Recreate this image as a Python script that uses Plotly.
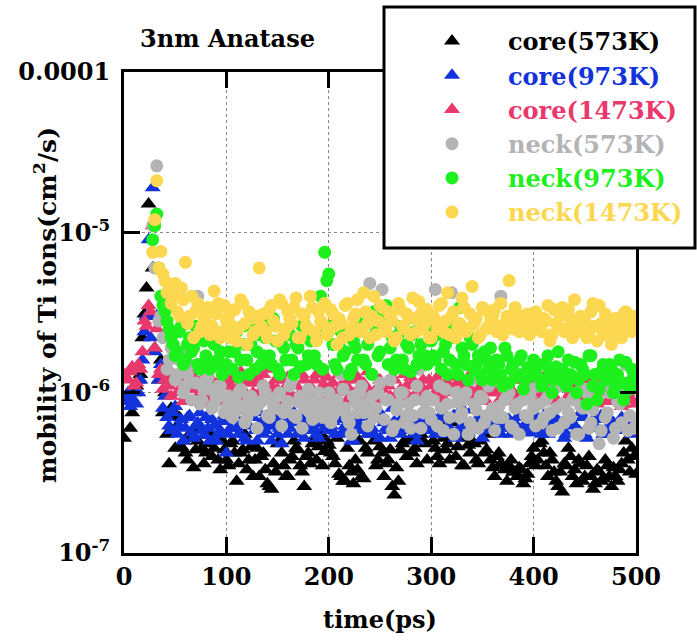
import plotly.graph_objects as go

# Sampling times (ps): core ions from t=0, neck ions from t=28; two interleaved
# sets of snapshots 2 ps apart
core_t = list(range(0, 501, 4))
core_t2 = list(range(2, 499, 4))
neck_t = list(range(28, 501, 4))
neck_t2 = list(range(30, 499, 4))

# Mobility values in units of 1e-6 cm^2/s
core_573 = [
    0.52, 0.95, 0.75, 1.1, 1.3, 3.1, 15, 6.0, 3.0, 1.6, 1.0, 0.36, 0.72, 0.62, 0.46, 0.42, 0.55, 0.34, 0.5, 0.45, 0.42, 0.55, 0.45, 0.38, 0.5,
    0.38, 0.48, 0.42, 0.36, 0.44, 0.33, 0.46, 0.38, 0.3, 0.42, 0.27, 0.25, 0.32, 0.5, 0.35, 0.3, 0.4, 0.45, 0.35, 0.26, 0.42, 0.48, 0.38, 0.55, 0.43,
    0.47, 0.4, 0.52, 0.3, 0.28, 0.35, 0.27, 0.33, 0.3, 0.45, 0.6, 0.5, 0.38, 0.42, 0.36, 0.44, 0.23, 0.28, 0.48, 0.4, 0.52, 0.45, 0.62, 0.5, 0.38,
    0.58, 0.45, 0.36, 0.52, 0.48, 0.65, 0.4, 0.55, 0.35, 0.47, 0.6, 0.38, 0.5, 0.42, 0.55, 0.34, 0.4, 0.36, 0.33, 0.35, 0.32, 0.3, 0.33, 0.29, 0.36,
    0.45, 0.38, 0.5, 0.35, 0.42, 0.32, 0.26, 0.24, 0.35, 0.4, 0.33, 0.38, 0.28, 0.35, 0.3, 0.27, 0.32, 0.29, 0.35, 0.26, 0.3, 0.33, 0.42, 0.38, 0.45, 0.31,
]
core_573_b = [
    0.9, 0.6, 1.0, 1.2, 2.2, 4.5, 3.1, 1.9, 1.2, 0.75, 0.55, 0.8, 0.45, 0.7, 0.5, 0.38, 0.52, 0.44, 0.6, 0.36, 0.48, 0.4, 0.52, 0.33, 0.44,
    0.35, 0.5, 0.28, 0.42, 0.55, 0.38, 0.3, 0.45, 0.4, 0.33, 0.26, 0.36, 0.48, 0.42, 0.3, 0.38, 0.5, 0.44, 0.32, 0.4, 0.36, 0.52, 0.46, 0.35, 0.5,
    0.42, 0.36, 0.31, 0.28, 0.45, 0.32, 0.38, 0.5, 0.29, 0.42, 0.55, 0.35, 0.46, 0.3, 0.38, 0.26, 0.34, 0.44, 0.5, 0.58, 0.42, 0.36, 0.55, 0.48, 0.6,
    0.5, 0.4, 0.62, 0.44, 0.38, 0.55, 0.46, 0.35, 0.52, 0.42, 0.48, 0.36, 0.58, 0.44, 0.38, 0.3, 0.42, 0.35, 0.28, 0.38, 0.32, 0.34, 0.27, 0.31, 0.4,
    0.35, 0.48, 0.42, 0.3, 0.38, 0.28, 0.32, 0.36, 0.45, 0.3, 0.27, 0.36, 0.3, 0.4, 0.25, 0.33, 0.28, 0.38, 0.3, 0.34, 0.28, 0.36, 0.5, 0.32, 0.4,
]
core_973 = [
    0.88, 1.0, 0.92, 0.85, 1.2, 2.4, 9.0, 19, 3.0, 1.5, 0.95, 0.62, 0.75, 0.55, 0.68, 0.6, 0.72, 0.52, 0.65, 0.58, 0.7, 0.5, 0.62, 0.55, 0.66,
    0.42, 0.6, 0.72, 0.55, 0.65, 0.5, 0.7, 0.58, 0.75, 0.55, 0.62, 0.5, 0.68, 0.6, 0.72, 0.55, 0.65, 0.7, 0.58, 0.52, 0.8, 0.62, 0.55, 0.68, 0.6,
    0.58, 0.66, 0.72, 0.55, 0.62, 0.7, 0.5, 0.65, 0.58, 0.75, 0.62, 0.55, 0.68, 0.72, 0.6, 0.52, 0.66, 0.62, 0.7, 0.58, 0.65, 0.55, 0.72, 0.6, 0.66,
    0.62, 0.55, 0.7, 0.75, 0.6, 0.68, 0.52, 0.72, 0.62, 0.56, 0.78, 0.65, 0.6, 0.7, 0.58, 0.66, 0.72, 0.55, 0.62, 0.68, 0.6, 0.7, 0.58, 0.64, 0.56,
    0.62, 0.7, 0.55, 0.66, 0.6, 0.72, 0.58, 0.65, 0.55, 0.68, 0.62, 0.58, 0.7, 0.52, 0.65, 0.6, 0.68, 0.55, 0.72, 0.62, 0.58, 0.66, 0.6, 0.7, 0.55, 0.62,
]
core_973_b = [
    0.95, 0.82, 1.1, 1.0, 1.6, 3.0, 2.2, 1.8, 1.2, 0.8, 0.7, 0.58, 0.82, 0.62, 0.5, 0.7, 0.56, 0.62, 0.75, 0.54, 0.6, 0.68, 0.5, 0.58, 0.72,
    0.55, 0.68, 0.6, 0.78, 0.52, 0.62, 0.7, 0.5, 0.65, 0.58, 0.72, 0.62, 0.55, 0.48, 0.66, 0.6, 0.75, 0.55, 0.68, 0.62, 0.58, 0.7, 0.52, 0.64, 0.72,
    0.62, 0.55, 0.68, 0.75, 0.58, 0.5, 0.66, 0.62, 0.7, 0.55, 0.6, 0.72, 0.52, 0.65, 0.58, 0.8, 0.62, 0.55, 0.7, 0.6, 0.68, 0.5, 0.64, 0.72, 0.58,
    0.7, 0.62, 0.55, 0.68, 0.6, 0.72, 0.58, 0.8, 0.55, 0.65, 0.6, 0.7, 0.52, 0.66, 0.62, 0.58, 0.72, 0.6, 0.68, 0.55, 0.64, 0.7, 0.6, 0.58, 0.66,
    0.58, 0.65, 0.72, 0.55, 0.62, 0.68, 0.6, 0.52, 0.7, 0.64, 0.58, 0.75, 0.55, 0.62, 0.68, 0.6, 0.72, 0.58, 0.55, 0.65, 0.62, 0.7, 0.58, 0.66, 0.6,
]
core_1473 = [
    1.3, 1.2, 1.45, 1.15, 1.4, 2.8, 3.5, 11, 2.5, 1.4, 1.2, 1.1, 1.3, 1.0, 1.2, 0.95, 1.15, 1.05, 0.9, 1.2, 1.0, 0.85, 1.1, 0.95, 1.25,
    0.9, 1.1, 1.25, 0.95, 1.05, 1.2, 0.88, 1.15, 1.0, 1.3, 0.92, 1.1, 1.2, 0.95, 1.05, 1.25, 0.9, 1.1, 1.0, 1.2, 0.85, 1.05, 1.3, 0.95, 1.1,
    0.9, 1.15, 1.0, 0.85, 1.2, 1.05, 0.95, 1.25, 0.9, 1.1, 1.0, 1.3, 0.92, 1.05, 1.15, 0.95, 1.2, 1.0, 0.88, 1.1, 1.25, 0.95, 1.05, 1.2, 0.9,
    1.1, 1.0, 1.3, 0.92, 1.15, 1.05, 0.85, 1.2, 1.0, 1.1, 0.95, 1.3, 1.05, 0.9, 1.15, 1.0, 1.2, 0.92, 1.1, 1.05, 0.88, 1.2, 1.0, 1.1, 0.95,
    1.15, 1.0, 0.9, 1.2, 1.05, 0.95, 1.15, 0.85, 1.1, 1.0, 1.25, 0.92, 1.05, 1.15, 0.9, 1.1, 1.0, 1.2, 0.88, 1.05, 0.95, 1.15, 0.85, 1.0, 0.9, 0.85,
]
core_1473_b = [
    1.25, 1.35, 1.1, 1.5, 1.8, 2.6, 3.2, 1.9, 1.3, 1.05, 1.35, 0.95, 1.15, 1.25, 0.88, 1.1, 1.3, 0.92, 1.05, 1.15, 0.9, 1.2, 1.0, 0.88, 1.1,
    1.2, 0.85, 1.05, 1.35, 0.95, 1.15, 1.0, 1.25, 0.9, 1.1, 1.4, 0.95, 1.05, 0.88, 1.2, 1.0, 1.15, 0.92, 1.3, 1.05, 0.95, 1.2, 0.9, 1.1, 1.25,
    1.05, 0.95, 1.3, 1.1, 0.9, 1.2, 1.0, 0.85, 1.15, 1.35, 0.95, 1.05, 1.2, 0.9, 1.1, 1.25, 0.92, 1.05, 1.3, 0.95, 1.15, 0.88, 1.1, 1.0, 1.2,
    0.95, 1.2, 1.05, 0.88, 1.25, 1.0, 1.15, 0.9, 1.1, 1.3, 0.95, 1.05, 1.2, 0.88, 1.1, 1.0, 1.25, 0.92, 1.15, 1.05, 0.95, 1.2, 0.9, 1.05, 1.15,
    1.05, 0.9, 1.25, 1.0, 1.15, 0.88, 1.1, 1.2, 0.95, 1.05, 0.9, 1.15, 1.0, 1.25, 0.92, 0.85, 1.1, 1.0, 0.9, 1.2, 0.95, 0.82, 1.05, 0.9, 1.1,
]
neck_573 = [
    11, 26, 3.0, 3.5, 1.6, 2.0, 1.3, 1.8, 1.1, 1.5, 2.2, 4.0, 0.9, 1.2, 1.05, 0.85, 1.1, 0.95,
    0.8, 0.9, 0.75, 1.0, 0.82, 0.7, 0.95, 0.78, 0.85, 1.1, 0.72, 0.9, 0.8, 1.0, 0.75, 0.88, 1.2, 0.7, 0.95, 0.8, 1.05, 0.68, 0.9, 0.78, 0.85,
    1.0, 0.72, 0.9, 1.3, 0.8, 0.65, 0.95, 0.75, 1.1, 0.85, 4.8, 0.7, 1.0, 4.4, 0.9, 1.2, 0.62, 0.85, 1.0, 0.72, 0.6, 0.9, 1.4, 0.75, 0.95,
    0.68, 4.4, 1.1, 0.58, 0.85, 4.2, 1.0, 0.7, 0.9, 0.55, 1.2, 0.78, 0.95, 0.65, 1.1, 0.8, 0.7, 4.0, 0.9, 1.0, 0.6, 0.85, 1.3, 0.72, 0.95,
    0.8, 1.1, 0.65, 0.9, 0.75, 1.05, 0.6, 0.85, 1.2, 0.7, 0.95, 0.55, 0.8, 1.0, 0.65, 0.9, 0.48, 1.1, 0.75, 1.4, 0.6, 0.85, 1.0, 0.58, 1.2, 0.62,
]
neck_573_b = [
    6.0, 2.8, 2.2, 1.4, 1.9, 1.2, 1.6, 1.0, 1.3, 0.9, 1.15, 0.85, 1.05, 1.25, 0.8, 0.95, 1.1, 0.75,
    0.95, 0.7, 0.85, 1.05, 0.65, 0.9, 0.78, 0.6, 0.88, 1.0, 0.7, 0.82, 0.95, 0.62, 0.8, 1.1, 0.72, 0.88, 0.6, 0.92, 0.75, 0.85, 1.0, 0.7, 0.8,
    0.65, 0.9, 0.78, 1.05, 0.7, 0.55, 0.88, 1.0, 0.75, 0.62, 0.95, 0.8, 1.15, 0.68, 0.9, 0.58, 0.78, 1.0, 0.65, 0.85, 0.72, 1.1, 0.6, 0.88, 0.75,
    0.9, 0.62, 0.8, 1.05, 0.7, 0.55, 0.88, 0.75, 1.0, 0.65, 0.85, 0.6, 0.92, 0.72, 1.15, 0.58, 0.82, 0.7, 0.95, 0.62, 0.8, 0.55, 0.9, 0.7, 1.05,
    0.62, 0.85, 0.7, 0.95, 0.58, 0.8, 1.1, 0.65, 0.75, 0.9, 0.55, 0.82, 1.05, 0.6, 0.78, 0.92, 0.58, 0.7, 1.0, 0.52, 0.88, 0.65, 1.5, 0.72, 0.6,
]
neck_973 = [
    9.0, 13, 4.0, 3.2, 2.5, 2.0, 1.8, 2.6, 1.6, 2.2, 1.9, 1.5, 2.4, 1.7, 1.4, 2.0, 1.6, 1.3,
    1.5, 2.2, 1.8, 1.25, 2.6, 1.6, 2.0, 1.4, 2.3, 1.7, 2.8, 1.5, 2.1, 1.3, 1.9, 2.5, 1.6, 2.0, 1.45, 2.7, 1.7, 2.2, 1.5, 4.0, 7.5,
    5.5, 2.0, 1.4, 2.4, 1.8, 1.3, 2.1, 1.6, 2.6, 1.5, 2.2, 3.2, 1.7, 2.5, 3.5, 1.9, 1.4, 2.3, 1.6, 2.0, 1.35, 2.4, 1.7, 2.8, 1.5,
    2.1, 1.6, 2.5, 1.8, 1.3, 2.2, 1.5, 3.4, 1.7, 1.2, 2.0, 1.5, 1.3, 1.8, 1.4, 1.2, 1.6, 1.3, 1.9, 1.15, 1.5, 1.3, 1.7, 1.2, 1.45,
    1.6, 1.25, 1.1, 1.5, 1.35, 1.2, 1.8, 1.4, 1.1, 1.3, 1.55, 1.2, 1.4, 0.85, 1.7, 1.3, 1.05, 1.5, 1.25, 1.4, 1.1, 1.6, 0.9, 1.15, 1.4, 1.2,
]
neck_973_b = [
    11, 6.0, 3.5, 2.8, 2.2, 1.7, 2.4, 1.5, 2.0, 1.8, 2.6, 1.4, 2.1, 1.6, 2.3, 1.5, 1.8, 1.4,
    1.8, 1.4, 2.4, 1.6, 2.0, 1.3, 2.5, 1.8, 1.5, 2.2, 1.7, 2.9, 1.4, 2.0, 1.6, 2.3, 1.3, 1.9, 2.6, 1.5, 2.1, 1.7, 2.4, 1.4, 5.0,
    2.6, 1.5, 2.0, 1.7, 2.3, 1.4, 1.9, 2.7, 1.6, 2.0, 1.3, 2.4, 1.8, 2.9, 1.5, 2.2, 1.6, 2.6, 1.4, 1.9, 2.3, 1.5, 2.0, 1.7, 2.5,
    1.7, 2.3, 1.4, 2.0, 1.6, 2.6, 1.3, 1.9, 1.5, 2.2, 1.4, 1.7, 1.2, 1.6, 1.9, 1.3, 1.5, 1.1, 1.7, 1.4, 1.25, 1.6, 1.05, 1.4, 1.3,
    1.35, 1.5, 1.2, 1.7, 1.0, 1.45, 1.3, 1.15, 1.6, 1.25, 1.0, 1.5, 1.3, 1.7, 1.1, 0.9, 1.35, 1.2, 1.5, 1.0, 1.3, 1.15, 1.55, 1.05, 1.3,
]
neck_1473 = [
    7.5, 21, 7.6, 5.0, 4.5, 4.0, 3.2, 4.5, 6.5, 3.0, 2.2, 3.6, 2.6, 3.0, 2.3, 4.3, 3.6, 2.4,
    2.8, 2.2, 3.3, 2.5, 3.6, 2.0, 2.9, 2.4, 6.0, 3.1, 2.2, 3.5, 2.6, 3.8, 2.3, 3.2, 2.7, 3.9, 2.2, 3.0, 2.5, 3.4, 2.1, 2.8, 3.6,
    2.4, 3.1, 2.0, 2.7, 3.5, 2.3, 2.9, 3.8, 2.5, 3.2, 2.2, 4.0, 2.8, 3.4, 2.4, 3.0, 2.1, 3.6, 2.6, 3.1, 2.3, 2.9, 3.7, 2.5, 3.3,
    2.2, 2.8, 3.5, 2.4, 4.2, 3.0, 2.2, 2.7, 3.4, 2.5, 4.6, 2.9, 2.3, 3.3, 2.6, 3.0, 2.4, 3.6, 2.7, 5.0, 2.5, 3.1, 2.6, 2.9, 2.3,
    2.7, 3.0, 2.4, 2.8, 2.1, 3.3, 2.6, 3.4, 2.5, 2.9, 3.8, 2.4, 2.8, 2.2, 3.2, 2.6, 3.5, 2.3, 2.7, 2.0, 2.9, 2.5, 3.1, 2.7, 2.4, 2.8,
]
neck_1473_b = [
    12, 6.0, 5.5, 4.2, 3.6, 4.8, 3.0, 3.8, 2.7, 4.0, 3.2, 2.4, 2.9, 3.4, 2.6, 3.1, 2.2, 3.5,
    3.0, 2.6, 2.1, 3.8, 2.7, 3.2, 2.3, 3.0, 2.6, 2.4, 3.3, 2.8, 2.1, 3.6, 2.5, 2.9, 3.4, 2.2, 3.1, 2.6, 4.0, 2.4, 3.2, 2.7, 2.3,
    3.3, 2.6, 2.9, 2.2, 3.6, 2.5, 3.1, 2.4, 4.2, 2.7, 3.0, 2.3, 3.5, 2.6, 3.2, 2.8, 2.2, 3.3, 2.5, 2.9, 3.9, 2.4, 3.1, 2.7, 2.2,
    3.0, 2.5, 3.6, 2.8, 2.3, 3.2, 2.6, 3.9, 2.4, 3.1, 2.7, 2.2, 3.4, 2.5, 2.9, 3.3, 2.6, 2.3, 3.0, 2.8, 3.4, 2.4, 2.7, 3.1, 2.5,
    3.2, 2.5, 2.9, 3.5, 2.3, 2.7, 3.0, 2.4, 3.3, 2.2, 2.6, 3.0, 2.8, 2.4, 3.6, 2.1, 2.7, 3.1, 2.5, 2.3, 2.9, 2.2, 3.2, 2.6, 3.0,
]

series_names = ["core(573K)", "core(973K)", "core(1473K)", "neck(573K)", "neck(973K)", "neck(1473K)"]
series_colors = ["#000000", "#1232DC", "#E8386C", "#B4B4B4", "#1EF01E", "#FCD850"]
series_values = [(core_573, core_573_b), (core_973, core_973_b), (core_1473, core_1473_b),
                 (neck_573, neck_573_b), (neck_973, neck_973_b), (neck_1473, neck_1473_b)]
series_times = [(core_t, core_t2)] * 3 + [(neck_t, neck_t2)] * 3
series_symbols = ["triangle-up"] * 3 + ["circle"] * 3

y_tickvals = [1e-7, 1e-6, 1e-5, 1e-4]
y_ticktext = ["<b>10<sup>-7</sup></b>", "<b>10<sup>-6</sup></b>", "<b>10<sup>-5</sup></b>", "<b>0.0001</b>"]
x_tickvals = [0, 100, 200, 300, 400, 500]
x_ticktext = ["<b>%d</b>" % v for v in x_tickvals]

SERIF = "DejaVu Serif"

fig = go.Figure()
for i, (name, color, (va, vb), (ta, tb), sym) in enumerate(
        zip(series_names, series_colors, series_values, series_times, series_symbols)):
    xs, ys = [], []
    for vals, times in ((va, ta), (vb, tb)):
        n = min(len(vals), len(times))
        xs += times[:n]
        ys += [v * 1e-6 for v in vals[:n]]
    fig.add_trace(go.Scatter(
        x=xs, y=ys, mode="markers",
        name=f'<b><span style="color:{color}">{name}</span></b>',
        legendgroup=f"g{i}",
        marker=dict(symbol=sym, color=color, size=13 if sym == "circle" else 14,
                    line=dict(width=0)),
    ))

W, H = 697, 643
L, R, T, B = 124, 61, 72, 90
pw, ph = W - L - R, H - T - B


def px_x(p):
    return (p - L) / pw


def px_y(p):
    return (H - B - p) / ph


# white legend panel with a heavy black frame
fig.add_shape(type="rect", xref="paper", yref="paper",
              x0=px_x(384), x1=px_x(695), y0=px_y(248), y1=px_y(7),
              fillcolor="white", line=dict(color="black", width=3), layer="above")

fig.add_annotation(text="<b>3nm Anatase</b>", xref="paper", yref="paper",
                   x=px_x(138), y=px_y(38), xanchor="left", yanchor="middle",
                   showarrow=False,
                   font=dict(family=SERIF, size=24, color="black"))

fig.add_annotation(text="<b>mobility of Ti ions(cm<sup>2</sup>/s)</b>",
                   xref="paper", yref="paper", textangle=-90,
                   x=px_x(45), y=px_y(305), xanchor="center", yanchor="middle",
                   showarrow=False,
                   font=dict(family=SERIF, size=25, color="black"))

fig.update_layout(
    width=W, height=H,
    margin=dict(l=L, r=R, t=T, b=B, autoexpand=False),
    paper_bgcolor="white", plot_bgcolor="white",
    font=dict(family=SERIF, color="black"),
    legend=dict(x=px_x(396), y=px_y(19), xanchor="left", yanchor="top",
                bgcolor="rgba(0,0,0,0)", borderwidth=0,
                font=dict(family=SERIF, size=24),
                itemwidth=102, tracegroupgap=0),
    showlegend=True,
)

fig.update_xaxes(
    range=[0, 500], tickvals=x_tickvals, ticktext=x_ticktext, automargin=False,
    ticks="inside", ticklen=16, tickwidth=2.5, tickcolor="black",
    showline=True, linecolor="black", linewidth=3, mirror="ticks",
    showgrid=True, gridcolor="#888888", gridwidth=1, griddash="dot",
    zeroline=False,
    tickfont=dict(family=SERIF, size=24, color="black"),
    title=dict(text="<b>time(ps)</b>", standoff=22,
               font=dict(family=SERIF, size=24, color="black")),
)
fig.update_yaxes(
    type="log", range=[-7, -4], tickvals=y_tickvals, ticktext=y_ticktext, automargin=False,
    ticks="inside", ticklen=16, tickwidth=2.5, tickcolor="black",
    showline=True, linecolor="black", linewidth=3, mirror="ticks",
    showgrid=True, gridcolor="#888888", gridwidth=1, griddash="dot",
    zeroline=False, ticklabelstandoff=6,
    tickfont=dict(family=SERIF, size=24, color="black"),
)

fig.write_html("out.html")
